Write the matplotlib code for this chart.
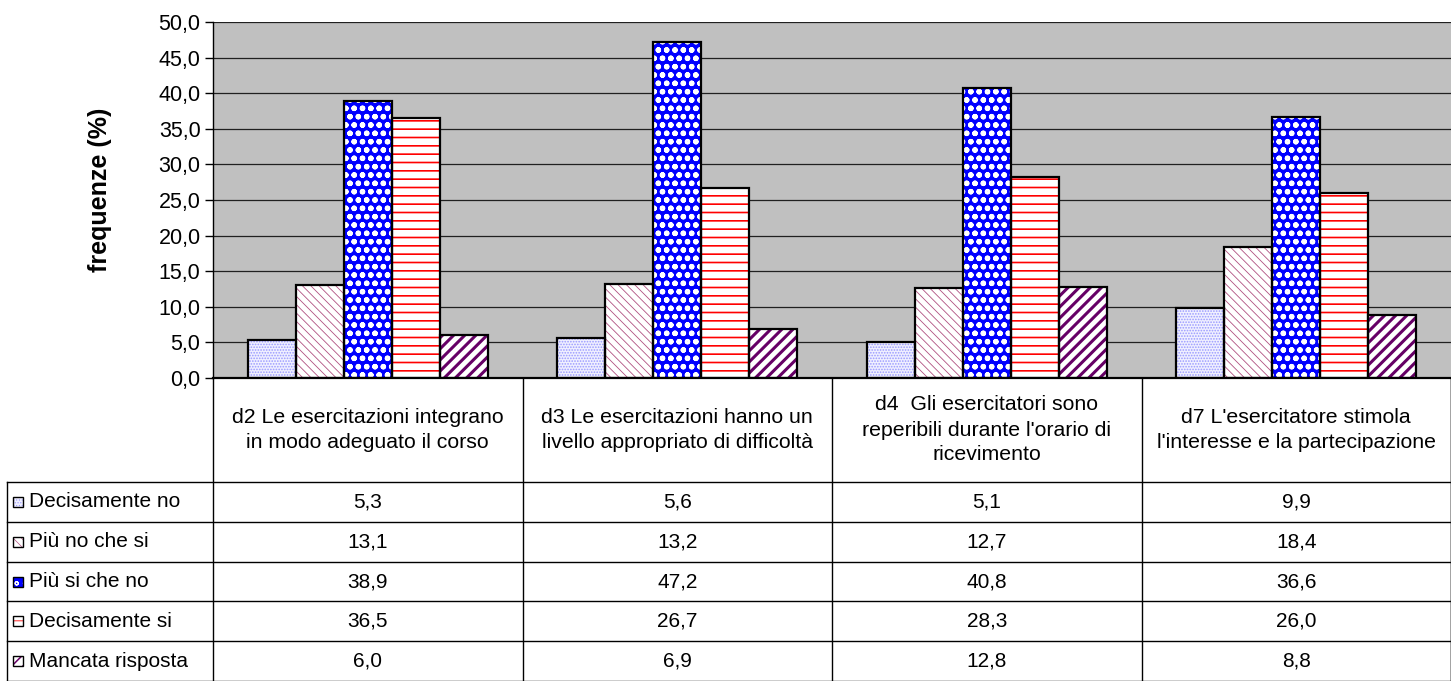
import matplotlib
matplotlib.use("Agg")
import matplotlib.pyplot as plt
from matplotlib.transforms import blended_transform_factory
from matplotlib.lines import Line2D
from matplotlib.patches import Rectangle
import numpy as np

plt.rcParams['font.family'] = ['Liberation Sans', 'DejaVu Sans']

categories = [
    "d2 Le esercitazioni integrano\nin modo adeguato il corso",
    "d3 Le esercitazioni hanno un\nlivello appropriato di difficoltà",
    "d4  Gli esercitatori sono\nreperibili durante l'orario di\nricevimento",
    "d7 L'esercitatore stimola\nl'interesse e la partecipazione",
]
series_names = ["Decisamente no", "Più no che si", "Più si che no", "Decisamente si", "Mancata risposta"]
decisamente_no = [5.3, 5.6, 5.1, 9.9]
piu_no_che_si = [13.1, 13.2, 12.7, 18.4]
piu_si_che_no = [38.9, 47.2, 40.8, 36.6]
decisamente_si = [36.5, 26.7, 28.3, 26.0]
mancata_risposta = [6.0, 6.9, 12.8, 8.8]
series_values = [decisamente_no, piu_no_che_si, piu_si_che_no, decisamente_si, mancata_risposta]
y_ticks = [0, 5, 10, 15, 20, 25, 30, 35, 40, 45, 50]

# style: (facecolor, hatch, hatchcolor, hatch linewidth)
styles = [
    ("#f0f0ff", "......", "#9999ff", 0.8),
    ("white", "\\\\\\\\", "#b05080", 0.6),
    ("#0000ff", "oo", "white", 1.6),
    ("white", "--", "#ff0000", 1.2),
    ("white", "///", "#660066", 2.2),
]

W, H = 1451, 681
fig = plt.figure(figsize=(W / 100, H / 100), dpi=100)
ax_left, ax_right, ax_top, ax_bot = 213, 1451, 22, 378
ax = fig.add_axes([ax_left / W, (H - ax_bot) / H, (ax_right - ax_left) / W, (ax_bot - ax_top) / H])
ax.set_facecolor("#c0c0c0")

n = len(series_names)
bw = 0.155
x = np.arange(len(categories))
for i, (name, vals) in enumerate(zip(series_names, series_values)):
    fc, hatch, hc, hlw = styles[i]
    pos = x + (i - (n - 1) / 2) * bw
    with plt.rc_context({'hatch.linewidth': hlw}):
        ax.bar(pos, vals, bw, color=fc, hatch=hatch, edgecolor=hc, linewidth=0, zorder=2)
    ax.bar(pos, vals, bw, fill=False, edgecolor="black", linewidth=1.6, zorder=3)

ax.set_xlim(-0.5, len(categories) - 0.5)
ax.set_ylim(0, 50)
ax.set_yticks(y_ticks)
ax.set_yticklabels([f"{v:.1f}".replace(".", ",") for v in y_ticks], fontsize=15.5)
ax.yaxis.grid(True, color="#202020", linewidth=0.9, zorder=1)
ax.set_axisbelow(True)
ax.set_xticks([])
ax.tick_params(axis='y', length=6, width=1, pad=3)
for s in ["top", "right"]:
    ax.spines[s].set_visible(False)
ax.spines["left"].set_linewidth(1)
ax.spines["bottom"].set_linewidth(1.6)
ax.set_ylabel("frequenze (%)", fontsize=18, fontweight="bold", va="center")
ax.yaxis.set_label_coords((100 - ax_left) / (ax_right - ax_left), (ax_bot - 190) / (ax_bot - ax_top))

# table below the chart
tr = blended_transform_factory(ax.transData, fig.transFigure)
def fy(py):
    return (H - py) / H

hdr_bot = 482
row_h = (H - hdr_bot) / n
lw = 1.0
for b in np.arange(len(categories) + 1) - 0.5:
    fig.add_artist(Line2D([b, b], [fy(ax_bot), fy(H)], transform=tr, color="black", lw=lw))
left_px = 7
for r in range(n + 1):
    yy = hdr_bot + r * row_h
    if r == n:
        yy = H - 0.5
    fig.add_artist(Line2D([left_px / W, 1.0], [fy(yy), fy(yy)], transform=fig.transFigure, color="black", lw=lw))
fig.add_artist(Line2D([left_px / W, left_px / W], [fy(hdr_bot), fy(H)], transform=fig.transFigure, color="black", lw=lw))
fig.add_artist(Line2D([1 - 0.5 / W, 1 - 0.5 / W], [fy(ax_bot), fy(H)], transform=fig.transFigure, color="black", lw=lw))

for j, c in enumerate(categories):
    fig.text(x[j], fy(430), c, transform=tr, ha="center", va="center",
             fontsize=15.3, linespacing=1.4)

for i, (name, vals) in enumerate(zip(series_names, series_values)):
    cy = hdr_bot + (i + 0.5) * row_h
    fc, hatch, hc, hlw = styles[i]
    with plt.rc_context({'hatch.linewidth': max(hlw * 0.5, 0.5)}):
        fig.add_artist(Rectangle((13 / W, fy(cy + 5)), 10 / W, 10 / H, transform=fig.transFigure,
                                 facecolor=fc, hatch=hatch, edgecolor=hc, linewidth=0))
    fig.add_artist(Rectangle((13 / W, fy(cy + 5)), 10 / W, 10 / H, transform=fig.transFigure,
                             fill=False, edgecolor="black", linewidth=1))
    fig.text(29 / W, fy(cy), name, ha="left", va="center", fontsize=15)
    for j, v in enumerate(vals):
        fig.text(x[j], fy(cy), f"{v:.1f}".replace(".", ","), transform=tr, ha="center", va="center", fontsize=15)

fig.savefig("out.png", dpi=100, facecolor="white")
